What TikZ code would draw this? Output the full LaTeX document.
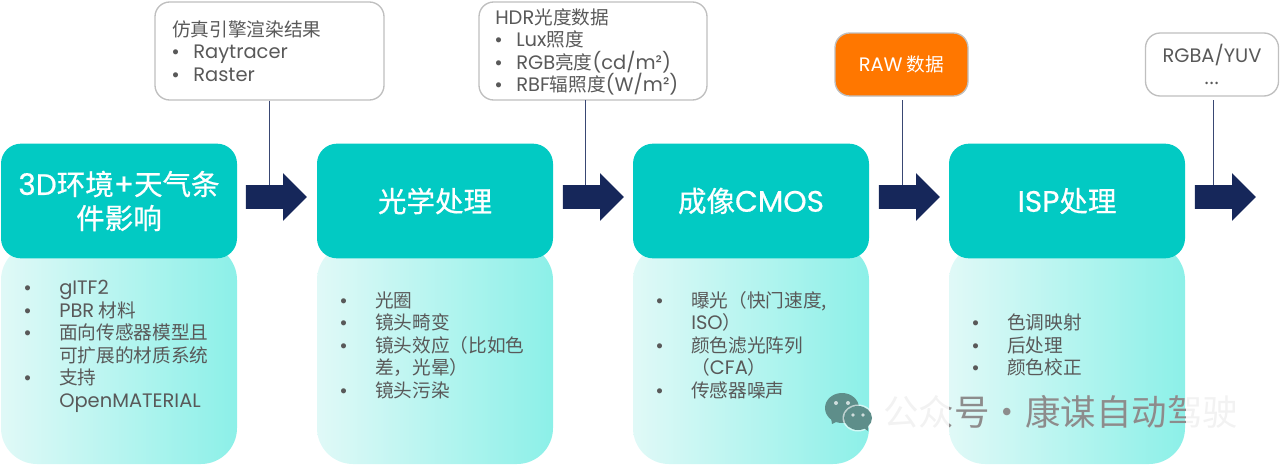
\documentclass[tikz,border=0pt]{standalone}
\usepackage{fontspec}
\setmainfont{Noto Sans CJK SC}
\newfontfamily\latf{Poppins}
\newfontfamily\dotf{Liberation Sans}
\newfontfamily\headf[FakeBold=0.6]{Noto Sans CJK SC}
\newfontfamily\headlatf[FakeBold=0.6]{Poppins}
\usetikzlibrary{shapes.arrows}
\definecolor{headteal}{HTML}{02CAC3}
\definecolor{navy}{HTML}{16275A}
\definecolor{bodygray}{HTML}{595959}
\definecolor{rimgray}{HTML}{BFBFBF}
\definecolor{rawred}{HTML}{FF7700}
\definecolor{panelleft}{HTML}{E0F9F7}
\definecolor{panelright}{HTML}{8CF0E8}
\definecolor{markgray}{HTML}{5E8E8A}
\newcommand{\lat}[1]{{\latf\fontsize{14.6}{16.9}\selectfont #1}}
\newcommand{\hlat}[1]{{\headlatf\fontsize{22.2}{25.5}\selectfont #1}}
\newcommand{\bl}{\makebox[26.25pt][l]{\dotf •}}
\newcommand{\nb}{\hspace*{26.25pt}}
\newcommand{\sbl}{\makebox[15.75pt][l]{\dotf •}}
\begin{document}
\begin{tikzpicture}[x=0.75pt,y=-0.75pt]
    \tikzset{head/.style = {shape=rectangle,rounded corners=15pt,fill=headteal,text=white,align=center,minimum width=177pt,minimum height=86pt,inner sep=0pt,font=\fontsize{21.4}{25.5}\selectfont\headf}}
    \tikzset{panel/.style = {shape=rectangle,rounded corners=27pt,left color=panelleft,right color=panelright,minimum width=177pt,minimum height=165pt,inner sep=0pt}}
    \tikzset{items/.style = {anchor=west,align=left,inner sep=0pt,text=bodygray,font=\fontsize{14}{16.9}\selectfont}}
    \tikzset{note/.style = {shape=rectangle,rounded corners=11pt,draw=rimgray,line width=1pt,fill=white,inner sep=0pt,text=bodygray,font=\fontsize{14}{16.9}\selectfont}}
    \tikzset{flow/.style = {shape=single arrow,fill=navy,minimum height=45.75pt,single arrow head extend=9pt,inner sep=0pt}}
    \tikzset{link/.style = {draw=navy!85,line width=0.7pt}}
    \tikzset{wmark/.style = {anchor=west,inner sep=0pt,font=\fontsize{26.6}{30}\selectfont}}
    \useasboundingbox (0,0) rectangle (1280,464);
    % panels
    \node[panel] (envpanel) at (119,354) {};
    \node[panel] (optpanel) at (435,354) {};
    \node[panel] (cmospanel) at (751,354) {};
    \node[panel] (isppanel) at (1067,354) {};
    % headers
    \node[head] (env) at (119,201) {\hlat{3D}环境\hlat{+}天气条\\件影响};
    \node[head] (opt) at (435,201) {光学处理};
    \node[head] (cmos) at (751,201) {成像\hlat{CMOS}};
    \node[head] (isp) at (1067,201) {\hlat{ISP}处理};
    % lists
    \node[items] (envlist) at (24,346.5) {\bl\lat{gITF2}\\\bl\lat{PBR} 材料\\\bl 面向传感器模型且\\\nb 可扩展的材质系统\\\bl 支持\\\nb\lat{OpenMATERIAL}};
    \node[items] (optlist) at (340,345) {\bl 光圈\\\bl 镜头畸变\\\bl 镜头效应（比如色\\\nb 差，光晕）\\\bl 镜头污染};
    \node[items] (cmoslist) at (656,345) {\bl 曝光（快门速度,\\\nb\lat{ISO}）\\\bl 颜色滤光阵列\\\nb （\lat{CFA}）\\\bl 传感器噪声};
    \node[items] (isplist) at (972,345) {\bl 色调映射\\\bl 后处理\\\bl 颜色校正};
    % notes
    \node[note,minimum width=171.75pt,minimum height=73.5pt] (engine) at (269.5,51) {};
    \node[items] (enginetxt) at (172,51) {仿真引擎渲染结果\\\sbl\lat{Raytracer}\\\sbl\lat{Raster}};
    \node[note,minimum width=171pt,minimum height=73.5pt] (hdr) at (593,51) {};
    \node[items] (hdrtxt) at (495,52) {\lat{HDR}光度数据\\\sbl\lat{Lux}照度\\\sbl\lat{RGB}亮度\lat{(cd/m²)}\\\sbl\lat{RBF}辐照度\lat{(W/m²)}};
    \node[note,fill=rawred,text=white,minimum width=99.75pt,minimum height=47.25pt] (raw) at (901.5,64.5) {\lat{RAW} 数据};
    \node[note,align=center,minimum width=99.75pt,minimum height=47.25pt] (rgba) at (1212,64.5) {\lat{RGBA/YUV}\\...};
    % arrows
    \node[flow] (flowa) at (270.5,197) {\rule{0pt}{17.25pt}};
    \node[flow] (flowb) at (587.5,197) {\rule{0pt}{17.25pt}};
    \node[flow] (flowc) at (903.5,197) {\rule{0pt}{17.25pt}};
    \node[flow] (flowd) at (1219.5,197) {\rule{0pt}{17.25pt}};
    % connectors
    \coordinate (enda) at (269.5,185);
    \coordinate (startb) at (585,100);
    \coordinate (endb) at (585,185);
    \coordinate (startc) at (902,100);
    \coordinate (endc) at (902,185);
    \coordinate (startd) at (1213,100);
    \coordinate (endd) at (1213,185);
    \draw[link] (engine.south) -- (enda);
    \draw[link] (startb) -- (endb);
    \draw[link] (startc) -- (endc);
    \draw[link] (startd) -- (endd);
    % watermark
    \node[wmark,text=black!5] (mark) at (883,412) {公众号·康谋自动驾驶};
    \begin{scope}
    \clip (949,245) rectangle (1185,464);
    \node[wmark,text=black,opacity=.42] (markin) at (883,412) {公众号·康谋自动驾驶};
    \end{scope}
    \fill[markgray] (842,408) ellipse (17 and 15);
    \fill[markgray] (831,418) -- (832,424) -- (840,420) -- cycle;
    \fill[white,opacity=.6] (858,418) ellipse (15.5 and 13.5);
    \fill[markgray] (858,418) ellipse (14 and 12);
    \fill[markgray] (862,427) -- (868,431) -- (868,424) -- cycle;
    \fill[white,opacity=.7] (836,403) circle (2) (848,403) circle (2) (853,415) circle (1.8) (863,415) circle (1.8);
\end{tikzpicture}
\end{document}
